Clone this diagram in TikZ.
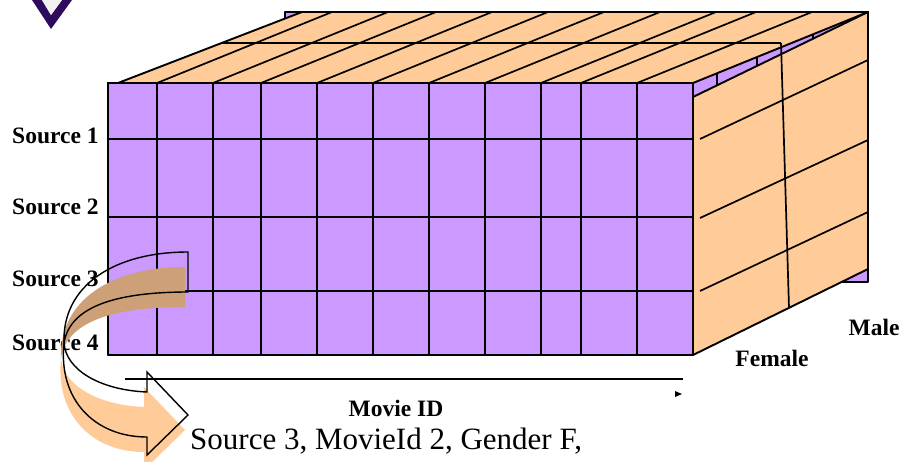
\documentclass[tikz,border=0pt]{standalone}
\usepackage{fontspec}
\setmainfont{Liberation Serif}
\definecolor{cubepurple}{HTML}{CC99FF}
\definecolor{cubeorange}{HTML}{FFCC99}
\definecolor{ribbontan}{HTML}{CDA077}
\definecolor{chevronpurple}{HTML}{2E0B5C}

\begin{document}
\begin{tikzpicture}[x=1pt, y=-1pt,
  face/.style={draw=black, line width=1.9pt, line join=round},
  gridline/.style={line width=1.7pt},
  ribbon/.style={draw=black, line width=1.4pt, line join=miter},
  lbl/.style={font=\bfseries\fontsize{23.5}{26}\selectfont, inner sep=0pt},
]
\useasboundingbox (0,0) rectangle (904,461);

% chevron cut off at the top
\fill[chevronpurple] (32,0) -- (51,29) -- (72,0) -- (62,0) -- (51,15) -- (42,0) -- cycle;
\fill[gray!12] (42,0) -- (51,15) -- (62,0) -- cycle;

% back layer
\filldraw[face, fill=cubepurple] (285,12) rectangle (868,282);

% top face
\filldraw[face, fill=cubeorange] (118,83) -- (693,83) -- (868,12) -- (302,12) -- cycle;
\foreach \x in {157,213,261,317,373,429,485,541,581,637}
  \draw[gridline] (\x,83) -- ++(175,-71);
\draw[gridline] (222,43) -- (781,43);

% right face
\filldraw[face, fill=cubeorange] (693,97) -- (868,12) -- (868,269) -- (693,355) -- cycle;
\foreach \ya/\yb in {139/60, 218/140, 291/212}
  \draw[gridline] (700,\ya) -- (868,\yb);
\draw[gridline] (781,43) -- (789,308);
% small ticks in the gap
\foreach \x/\ya/\yb in {717/73.3/85.3, 757/57/65.9, 813/34.3/38.7}
  \draw[line width=1.2pt] (\x,\ya) -- (\x,\yb);

% front face
\filldraw[face, fill=cubepurple] (108,83) rectangle (693,355);
\foreach \x in {157,213,261,317,373,429,485,541,581,637}
  \draw[gridline] (\x,83) -- (\x,355);
\foreach \y in {139,217,291}
  \draw[gridline] (108,\y) -- (693,\y);
\draw[face] (108,83) rectangle (693,355);

% labels
\node[lbl, anchor=west] (src1) at (12,136) {Source 1};
\node[lbl, anchor=west] (src2) at (12,207) {Source 2};
\node[lbl, anchor=west] (src3) at (12,279) {Source 3};
\node[lbl, anchor=west] (src4) at (12,343) {Source 4};
\node[lbl] (female) at (772,358) {Female};
\node[lbl] (male) at (874,327) {Male};

% shadow of the turning arrow
\begin{scope}[shift={(-3,15)}]
\fill[ribbontan] (188,252) .. controls (115,252) and (62,285) .. (64,343)
  .. controls (70,305) and (120,292) .. (188,292) -- cycle;
\fill[cubeorange] (64,343) .. controls (66,370) and (100,390) .. (147,392)
  -- (147,372) -- (188,415) -- (147,455) -- (147,437)
  .. controls (95,437) and (58,400) .. (64,343) -- cycle;
\end{scope}

% turning arrow outline
\draw[ribbon] (188,252) .. controls (115,252) and (62,285) .. (64,343)
  .. controls (70,305) and (120,292) .. (188,292) -- cycle;
\draw[ribbon] (64,343) .. controls (66,370) and (100,390) .. (147,392)
  -- (147,372) -- (188,415) -- (147,455) -- (147,437)
  .. controls (95,437) and (58,400) .. (64,343) -- cycle;

% movie axis
\coordinate (axisL) at (125,379);
\coordinate (axisR) at (683,379);
\draw[line width=1.4pt] (axisL) -- (axisR);
\fill (675,391) -- (682,394) -- (675,397) -- cycle;
\node[lbl] (movie) at (396,408) {Movie ID};

\node[font=\fontsize{31}{34}\selectfont, inner sep=0pt, anchor=west] (record) at (190,441) {Source 3, MovieId 2, Gender F,};
\end{tikzpicture}
\end{document}
